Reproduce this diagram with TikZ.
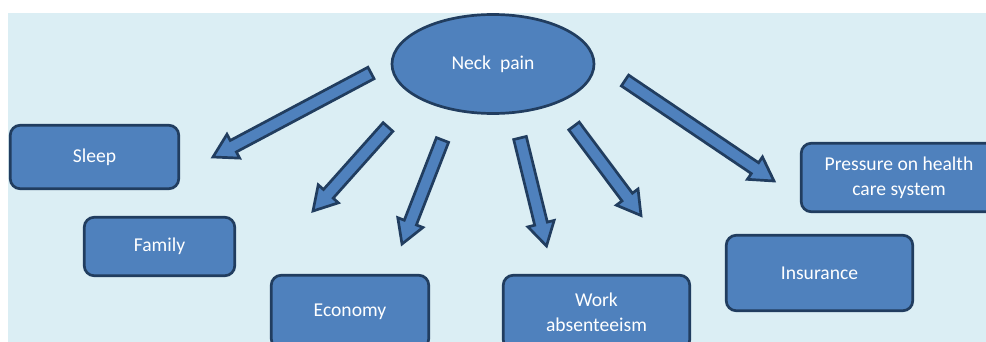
\documentclass[tikz,border=0pt]{standalone}
\usepackage{fontspec}
\setmainfont{Carlito}
\usetikzlibrary{shapes.geometric,calc}
\definecolor{boxblue}{HTML}{4F81BD}
\definecolor{boxline}{HTML}{213D5F}
\definecolor{paper}{HTML}{DBEEF4}

\begin{document}
\begin{tikzpicture}[x=1pt,y=-1pt]
\clip (0,0) rectangle (986,342);
\fill[paper] (8,13) rectangle (986,342);
\tikzstyle{item}=[draw=boxline, fill=boxblue, line width=2.7pt,
                  text=white, font=\fontsize{19.6}{25}\selectfont,
                  align=center, inner sep=0pt]
\tikzstyle{box}=[item, rectangle, rounded corners=10pt]
\tikzstyle{fatarrow}=[draw=boxline, fill=boxblue, line width=2.7pt,
                      line join=miter]
\node[item, ellipse, minimum width=202pt, minimum height=99pt] (neck) at (493,64){Neck\ \ pain};
\node[box, minimum width=168.5pt, minimum height=63.5pt] (sleep) at (94.5,157){Sleep};
\node[box, minimum width=150.5pt, minimum height=58.5pt] (family) at (159.5,246.5){Family};
\node[box, minimum width=157.5pt, minimum height=73.5pt] (economy) at (350,312){Economy};
\node[box, minimum width=186.5pt, minimum height=74.5pt] (work) at (596.5,312.5){Work\\absenteeism};
\node[box, minimum width=195.5pt, minimum height=68.5pt] (pressure) at (899,177.5){Pressure on health\\care system};
\node[box, minimum width=186.5pt, minimum height=75.5pt] (insurance) at (819.5,273){Insurance};
% tails and tips of the arrows
\coordinate (tail1) at (371,73);    \coordinate (tip1) at (213,157);
\coordinate (tail2) at (388,127);   \coordinate (tip2) at (313,211);
\coordinate (tail3) at (442.5,140); \coordinate (tip3) at (402,244);
\coordinate (tail4) at (520,138);   \coordinate (tip4) at (546.5,246);
\coordinate (tail5) at (574,126);   \coordinate (tip5) at (641,215.5);
\coordinate (tail6) at (625,80.5);  \coordinate (tip6) at (774,181);
\foreach \n in {1,2,...,6}{
	\coordinate (base\n) at ($(tip\n)!23pt!(tail\n)$);
	\draw[fatarrow] ($(tail\n)!6.5pt!90:(tip\n)$) -- ($(base\n)!6.5pt!90:(tip\n)$)
		-- ($(base\n)!13.5pt!90:(tip\n)$) -- (tip\n)
		-- ($(base\n)!13.5pt!-90:(tip\n)$) -- ($(base\n)!6.5pt!-90:(tip\n)$)
		-- ($(tail\n)!6.5pt!-90:(tip\n)$) -- cycle;
	}
\end{tikzpicture}
\end{document}
